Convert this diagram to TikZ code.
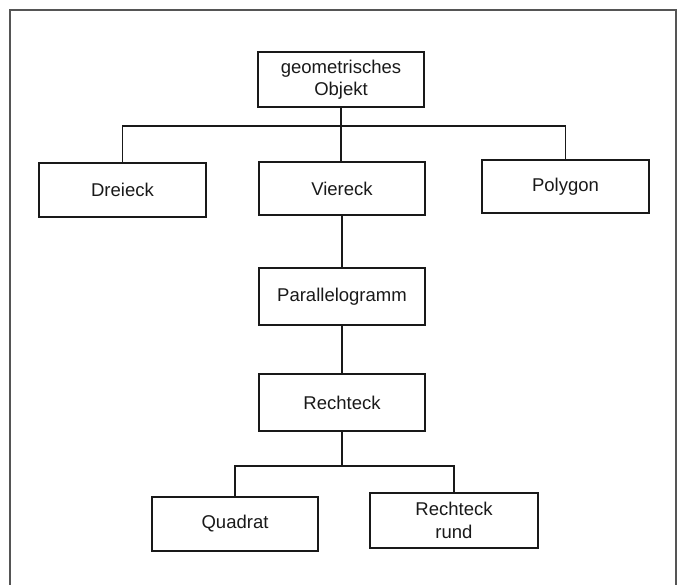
\documentclass[tikz,border=0pt]{standalone}
\usepackage{fontspec}
\setmainfont{Liberation Sans}
\usepackage{tikz}
\usetikzlibrary{positioning,calc}
\usepackage{xcolor}
\definecolor{ink}{RGB}{25,25,25}
\definecolor{rim}{RGB}{85,85,85}
\tikzset{
  box/.style={draw=ink,line width=1.4pt,minimum width=4.98cm,inner sep=2pt,
    font=\fontsize{15.8}{19}\selectfont,align=center,text=ink},
  link/.style={draw=ink,line width=1.2pt},
  frame/.style={draw=rim,line width=1.1pt},
}

\begin{document}
\begin{tikzpicture}[x=0.03cm,y=-0.03cm]
  \useasboundingbox (0,0) rectangle (678,584);
  \draw[frame] (10,590) -- (10,10) -- (676,10) -- (676,590);
  % top level
  \node[box,minimum height=1.65cm] (geo) at (341,79.5) {geometrisches\\Objekt};
  \node[box,minimum width=5.01cm,minimum height=1.62cm] (drei) at (122.5,190) {Dreieck};
  \node[box,minimum height=1.59cm] (vier) at (342,188.5) {Viereck};
  \node[box,minimum width=5.01cm,minimum height=1.59cm] (poly) at (565.5,186.5) {Polygon};
  % chain below Viereck
  \node[box,minimum height=1.71cm] (para) at (342,296.5) {Parallelogramm};
  \node[box,minimum height=1.71cm] (recht) at (342,402.5) {Rechteck};
  \node[box,minimum height=1.62cm] (quad) at (235,524) {Quadrat};
  \node[box,minimum width=5.04cm,minimum height=1.65cm] (rund) at (454,520.5) {Rechteck\\rund};
  % connectors
  \coordinate (bus1) at (0,126);
  \coordinate (bus2) at (0,466);
  \draw[link] (geo.south) -- (geo.south |- vier.north);
  \draw[link] (drei.north) -- (drei.north |- bus1) -- (poly.north |- bus1) -- (poly.north);
  \draw[link] (vier.south) -- (para.north);
  \draw[link] (para.south) -- (recht.north);
  \draw[link] (recht.south) -- (recht.south |- bus2);
  \draw[link] (quad.north) -- (quad.north |- bus2) -- (rund.north |- bus2) -- (rund.north);
\end{tikzpicture}
\end{document}
